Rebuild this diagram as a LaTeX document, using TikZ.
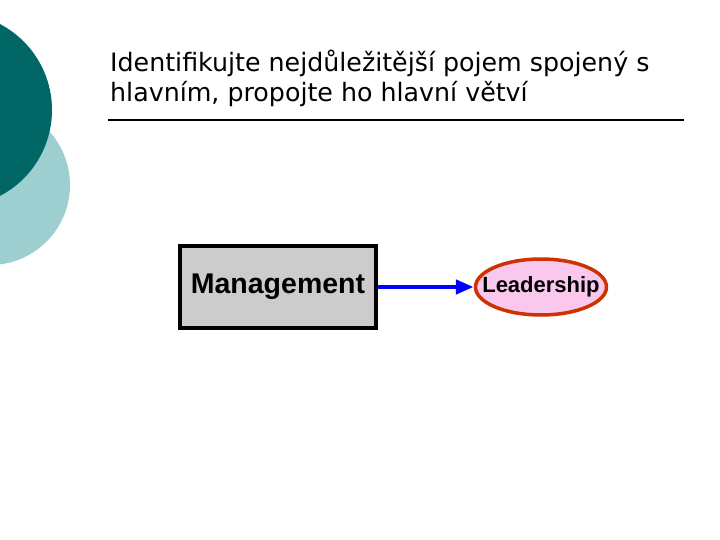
\documentclass[tikz,border=0pt]{standalone}
\usepackage{fontspec}
\setmainfont{DejaVu Sans}
\newfontfamily\arialf{Liberation Sans}
\usetikzlibrary{shapes.geometric,arrows.meta}
\definecolor{darkteal}{HTML}{006666}
\definecolor{lightteal}{HTML}{9ECFD0}
\definecolor{pinkfill}{HTML}{F9C8EC}
\definecolor{redline}{HTML}{CC3300}
\begin{document}
\begin{tikzpicture}[x=1pt,y=-1pt]
\useasboundingbox (0,0) rectangle (720,540);
\begin{scope}
\clip (0,0) rectangle (720,540);
\fill[lightteal] (-10,185) circle (80);
\fill[darkteal] (-45,110) circle (97);
\end{scope}
\node[anchor=base west,font=\fontsize{25.3}{30}\selectfont,inner sep=0] (t1) at (110,72) {Identifikujte nejdůležitější pojem spojený s};
\node[anchor=base west,font=\fontsize{25.3}{30}\selectfont,inner sep=0] (t2) at (110,102) {hlavním, propojte ho hlavní větví};
\draw[line width=1.5pt] (108,120) -- (684,120);
\node[draw,line width=4pt,fill=black!20,minimum width=196pt,minimum height=82pt,font=\arialf\bfseries\fontsize{28.5}{34}\selectfont] (m) at (278,287) {Management};
\node[ellipse,draw=redline,line width=3.5pt,fill=pinkfill,minimum width=131pt,minimum height=56pt,inner xsep=-18pt,inner ysep=0pt,font=\arialf\bfseries\fontsize{22}{26}\selectfont] (l) at (541,287) {Leadership};
\draw[blue,line width=4.5pt,-{Triangle[length=18pt,width=14pt]}] (m.east) -- (l.west);
\end{tikzpicture}
\end{document}
